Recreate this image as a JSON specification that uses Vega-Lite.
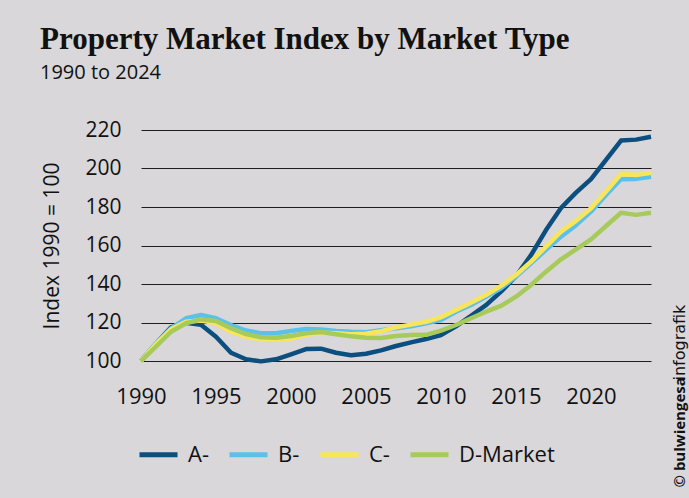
{
  "$schema": "https://vega.github.io/schema/vega-lite/v6.json",
  "width": 510,
  "height": 231,
  "autosize": {"type": "none"},
  "padding": {"left": 141, "top": 130, "right": 38, "bottom": 137},
  "background": "#d9d7d9",
  "title": {
    "text": "Property Market Index by Market Type",
    "subtitle": "1990 to 2024",
    "anchor": "start",
    "frame": "group",
    "dx": -101,
    "offset": 35,
    "font": "Liberation Serif",
    "fontSize": 31,
    "fontWeight": "bold",
    "color": "#111111",
    "subtitleFont": "Open Sans",
    "subtitleFontSize": 20,
    "subtitleColor": "#111111",
    "subtitlePadding": 7
  },
  "data": {
    "values": [
      {"year": 1990, "market": "A-", "value": 100},
      {"year": 1991, "market": "A-", "value": 109},
      {"year": 1992, "market": "A-", "value": 117.5},
      {"year": 1993, "market": "A-", "value": 119.8},
      {"year": 1994, "market": "A-", "value": 118.8},
      {"year": 1995, "market": "A-", "value": 112.6},
      {"year": 1996, "market": "A-", "value": 104.3},
      {"year": 1997, "market": "A-", "value": 100.9},
      {"year": 1998, "market": "A-", "value": 99.8},
      {"year": 1999, "market": "A-", "value": 100.9},
      {"year": 2000, "market": "A-", "value": 103.5},
      {"year": 2001, "market": "A-", "value": 106.2},
      {"year": 2002, "market": "A-", "value": 106.4},
      {"year": 2003, "market": "A-", "value": 104.3},
      {"year": 2004, "market": "A-", "value": 103},
      {"year": 2005, "market": "A-", "value": 103.8},
      {"year": 2006, "market": "A-", "value": 105.5},
      {"year": 2007, "market": "A-", "value": 107.8},
      {"year": 2008, "market": "A-", "value": 109.7},
      {"year": 2009, "market": "A-", "value": 111.4},
      {"year": 2010, "market": "A-", "value": 113.5},
      {"year": 2011, "market": "A-", "value": 118},
      {"year": 2012, "market": "A-", "value": 123.5},
      {"year": 2013, "market": "A-", "value": 129},
      {"year": 2014, "market": "A-", "value": 136},
      {"year": 2015, "market": "A-", "value": 144},
      {"year": 2016, "market": "A-", "value": 155},
      {"year": 2017, "market": "A-", "value": 168},
      {"year": 2018, "market": "A-", "value": 179.5},
      {"year": 2019, "market": "A-", "value": 187.5},
      {"year": 2020, "market": "A-", "value": 194.5},
      {"year": 2021, "market": "A-", "value": 204.5},
      {"year": 2022, "market": "A-", "value": 214.5},
      {"year": 2023, "market": "A-", "value": 215},
      {"year": 2024, "market": "A-", "value": 216.5},
      {"year": 1990, "market": "B-", "value": 100},
      {"year": 1991, "market": "B-", "value": 109.2},
      {"year": 1992, "market": "B-", "value": 117},
      {"year": 1993, "market": "B-", "value": 122.2},
      {"year": 1994, "market": "B-", "value": 123.9},
      {"year": 1995, "market": "B-", "value": 122.2},
      {"year": 1996, "market": "B-", "value": 118.7},
      {"year": 1997, "market": "B-", "value": 115.8},
      {"year": 1998, "market": "B-", "value": 114.4},
      {"year": 1999, "market": "B-", "value": 114.4},
      {"year": 2000, "market": "B-", "value": 115.6},
      {"year": 2001, "market": "B-", "value": 116.6},
      {"year": 2002, "market": "B-", "value": 116.4},
      {"year": 2003, "market": "B-", "value": 115.6},
      {"year": 2004, "market": "B-", "value": 115.2},
      {"year": 2005, "market": "B-", "value": 115},
      {"year": 2006, "market": "B-", "value": 116},
      {"year": 2007, "market": "B-", "value": 117},
      {"year": 2008, "market": "B-", "value": 118},
      {"year": 2009, "market": "B-", "value": 119.6},
      {"year": 2010, "market": "B-", "value": 121.3},
      {"year": 2011, "market": "B-", "value": 125.6},
      {"year": 2012, "market": "B-", "value": 129.1},
      {"year": 2013, "market": "B-", "value": 133.4},
      {"year": 2014, "market": "B-", "value": 137.8},
      {"year": 2015, "market": "B-", "value": 143.8},
      {"year": 2016, "market": "B-", "value": 150.8},
      {"year": 2017, "market": "B-", "value": 157.7},
      {"year": 2018, "market": "B-", "value": 164.6},
      {"year": 2019, "market": "B-", "value": 170.6},
      {"year": 2020, "market": "B-", "value": 177.6},
      {"year": 2021, "market": "B-", "value": 186.2},
      {"year": 2022, "market": "B-", "value": 194.4},
      {"year": 2023, "market": "B-", "value": 194.6},
      {"year": 2024, "market": "B-", "value": 195.7},
      {"year": 1990, "market": "C-", "value": 100},
      {"year": 1991, "market": "C-", "value": 108.8},
      {"year": 1992, "market": "C-", "value": 116.5},
      {"year": 1993, "market": "C-", "value": 120.4},
      {"year": 1994, "market": "C-", "value": 121},
      {"year": 1995, "market": "C-", "value": 119.6},
      {"year": 1996, "market": "C-", "value": 115.2},
      {"year": 1997, "market": "C-", "value": 112.6},
      {"year": 1998, "market": "C-", "value": 111.3},
      {"year": 1999, "market": "C-", "value": 111},
      {"year": 2000, "market": "C-", "value": 111.6},
      {"year": 2001, "market": "C-", "value": 113.5},
      {"year": 2002, "market": "C-", "value": 114.7},
      {"year": 2003, "market": "C-", "value": 114.4},
      {"year": 2004, "market": "C-", "value": 113.9},
      {"year": 2005, "market": "C-", "value": 114.2},
      {"year": 2006, "market": "C-", "value": 115.5},
      {"year": 2007, "market": "C-", "value": 117.5},
      {"year": 2008, "market": "C-", "value": 118.9},
      {"year": 2009, "market": "C-", "value": 120.4},
      {"year": 2010, "market": "C-", "value": 122.7},
      {"year": 2011, "market": "C-", "value": 126.5},
      {"year": 2012, "market": "C-", "value": 130.3},
      {"year": 2013, "market": "C-", "value": 134.3},
      {"year": 2014, "market": "C-", "value": 139},
      {"year": 2015, "market": "C-", "value": 144.7},
      {"year": 2016, "market": "C-", "value": 151.6},
      {"year": 2017, "market": "C-", "value": 159.4},
      {"year": 2018, "market": "C-", "value": 167.2},
      {"year": 2019, "market": "C-", "value": 172.8},
      {"year": 2020, "market": "C-", "value": 179.3},
      {"year": 2021, "market": "C-", "value": 188},
      {"year": 2022, "market": "C-", "value": 197.1},
      {"year": 2023, "market": "C-", "value": 196.6},
      {"year": 2024, "market": "C-", "value": 197.8},
      {"year": 1990, "market": "D-Market", "value": 100},
      {"year": 1991, "market": "D-Market", "value": 107.5},
      {"year": 1992, "market": "D-Market", "value": 115.2},
      {"year": 1993, "market": "D-Market", "value": 119.6},
      {"year": 1994, "market": "D-Market", "value": 121.6},
      {"year": 1995, "market": "D-Market", "value": 120.8},
      {"year": 1996, "market": "D-Market", "value": 117},
      {"year": 1997, "market": "D-Market", "value": 114},
      {"year": 1998, "market": "D-Market", "value": 112.3},
      {"year": 1999, "market": "D-Market", "value": 112.1},
      {"year": 2000, "market": "D-Market", "value": 113},
      {"year": 2001, "market": "D-Market", "value": 114.4},
      {"year": 2002, "market": "D-Market", "value": 115.1},
      {"year": 2003, "market": "D-Market", "value": 113.9},
      {"year": 2004, "market": "D-Market", "value": 112.8},
      {"year": 2005, "market": "D-Market", "value": 112.1},
      {"year": 2006, "market": "D-Market", "value": 112},
      {"year": 2007, "market": "D-Market", "value": 113},
      {"year": 2008, "market": "D-Market", "value": 113.5},
      {"year": 2009, "market": "D-Market", "value": 113.6},
      {"year": 2010, "market": "D-Market", "value": 115.8},
      {"year": 2011, "market": "D-Market", "value": 118.7},
      {"year": 2012, "market": "D-Market", "value": 122.2},
      {"year": 2013, "market": "D-Market", "value": 125.6},
      {"year": 2014, "market": "D-Market", "value": 128.6},
      {"year": 2015, "market": "D-Market", "value": 133.4},
      {"year": 2016, "market": "D-Market", "value": 139.5},
      {"year": 2017, "market": "D-Market", "value": 146.4},
      {"year": 2018, "market": "D-Market", "value": 152.8},
      {"year": 2019, "market": "D-Market", "value": 158},
      {"year": 2020, "market": "D-Market", "value": 163.2},
      {"year": 2021, "market": "D-Market", "value": 170.1},
      {"year": 2022, "market": "D-Market", "value": 177},
      {"year": 2023, "market": "D-Market", "value": 175.9},
      {"year": 2024, "market": "D-Market", "value": 177}
    ]
  },
  "layer": [
    {
      "mark": {"type": "line", "strokeWidth": 4.5, "strokeJoin": "round"},
      "encoding": {
        "x": {
          "field": "year",
          "type": "quantitative",
          "scale": {"domain": [1990, 2024], "nice": false, "zero": false},
          "axis": {
            "values": [1990, 1995, 2000, 2005, 2010, 2015, 2020],
            "format": "d",
            "title": null,
            "labelFont": "Open Sans",
            "labelFontSize": 22,
            "labelColor": "#111111",
            "labelPadding": 25,
            "labelFlush": false,
            "labelOverlap": false,
            "domain": false,
            "ticks": false,
            "grid": false
          }
        },
        "y": {
          "field": "value",
          "type": "quantitative",
          "scale": {"domain": [100, 220], "nice": false, "zero": false},
          "axis": {
            "values": [100, 120, 140, 160, 180, 200, 220],
            "title": "Index 1990 = 100",
            "titleFont": "Open Sans",
            "titleFontSize": 21,
            "titleFontWeight": "normal",
            "titleColor": "#111111",
            "titlePadding": 22,
            "labelFont": "Open Sans",
            "labelFontSize": 21,
            "labelColor": "#111111",
            "labelPadding": 20,
            "labelFlush": false,
            "domain": false,
            "ticks": false,
            "grid": true,
            "gridColor": "#1e1e1e",
            "gridWidth": 1.2
          }
        },
        "color": {
          "field": "market",
          "type": "nominal",
          "scale": {
            "domain": ["A-", "B-", "C-", "D-Market"],
            "range": ["#0c4e7e", "#5bc1e9", "#f8e55a", "#a7cb5b"]
          },
          "legend": {
            "orient": "none",
            "legendX": -4,
            "legendY": 303,
            "direction": "horizontal",
            "title": null,
            "symbolType": "stroke",
            "symbolSize": 1444,
            "symbolStrokeWidth": 5,
            "labelFont": "Open Sans",
            "labelFontSize": 22,
            "labelColor": "#111111",
            "labelOffset": 8,
            "columnPadding": 10
          }
        }
      }
    },
    {
      "mark": {"type": "rule", "opacity": 0},
      "encoding": {
        "y": {
          "field": "value",
          "type": "quantitative",
          "scale": {"domain": [100, 220], "nice": false, "zero": false},
          "axis": {
            "orient": "right",
            "title": "© bulwiengesa",
            "titleFont": "Open Sans",
            "titleFontSize": 15,
            "titleFontWeight": "bold",
            "titleColor": "#111111",
            "titleAngle": 270,
            "titleAlign": "left",
            "titleBaseline": "middle",
            "titleX": 28,
            "titleY": 357,
            "labels": false,
            "ticks": false,
            "domain": false,
            "grid": false
          }
        }
      }
    },
    {
      "mark": {"type": "rule", "opacity": 0},
      "encoding": {
        "y": {
          "field": "value",
          "type": "quantitative",
          "scale": {"domain": [100, 220], "nice": false, "zero": false},
          "axis": {
            "orient": "right",
            "title": "infografik",
            "titleFont": "DejaVu Sans",
            "titleFontSize": 16,
            "titleFontWeight": "normal",
            "titleColor": "#111111",
            "titleAngle": 270,
            "titleAlign": "left",
            "titleBaseline": "middle",
            "titleX": 28,
            "titleY": 250,
            "labels": false,
            "ticks": false,
            "domain": false,
            "grid": false
          }
        }
      }
    }
  ],
  "resolve": {"scale": {"y": "independent"}, "axis": {"y": "independent"}},
  "config": {"view": {"stroke": null}}
}
